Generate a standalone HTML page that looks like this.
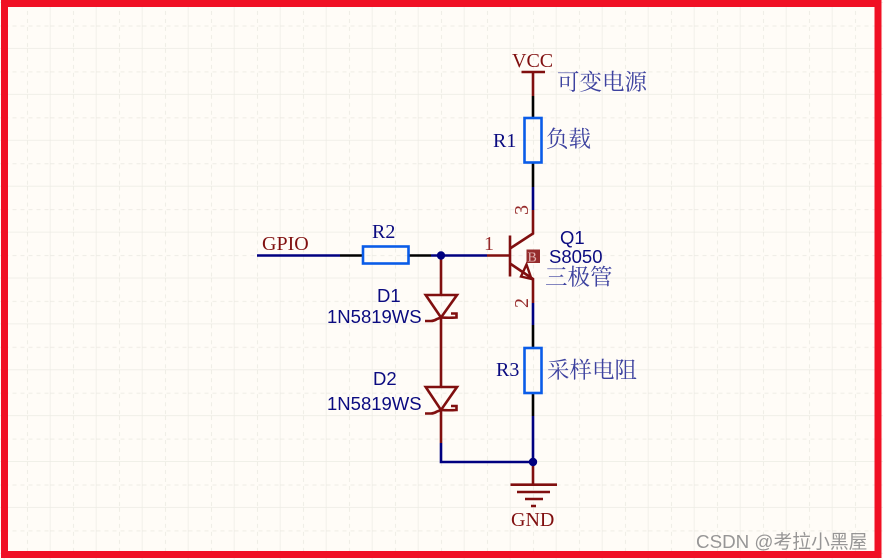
<!DOCTYPE html>
<html><head><meta charset="utf-8">
<style>
html,body{margin:0;padding:0;background:#fffcf7;width:883px;height:560px;overflow:hidden}
svg{display:block}
.s{font-family:"Liberation Serif",serif}
.a{font-family:"Liberation Sans",sans-serif;fill:#0b0b80}
.c{font-family:"Liberation Serif","Noto Serif CJK SC",serif;fill:#3d429f}
.b{fill:#0b0b80}.r{fill:#800f0f}
</style></head><body>
<svg width="883" height="560" viewBox="0 0 883 560" xmlns="http://www.w3.org/2000/svg">
<defs>
<pattern id="g" x="4.5" y="3" width="46" height="45.9" patternUnits="userSpaceOnUse">
<path d="M46 0V45.9M0 45.9H46" stroke="#ecebe4" stroke-width="1.4" fill="none"/>
<path d="M23 0V45.9M0 23H46" stroke="#f0eee7" stroke-width="1.1" stroke-dasharray="4 4" fill="none"/>
</pattern>
</defs>
<rect width="883" height="560" fill="#fffcf7"/>
<rect width="883" height="560" fill="url(#g)"/>

<g fill="none" stroke-width="2.6">
<!-- red wires -->
<g stroke="#800f0f">
<path d="M533 72V96"/>
<path d="M521.5 72H545" stroke-width="2.4"/>
<path d="M533 210V233.5L510 248.5"/>
<path d="M510 235.5V276.5"/>
<path d="M487 255.5H510"/>
<path d="M510 263.5L533 279V303"/>
<path d="M441 255.5V295"/>
<path d="M425.7 295H457L441 317.5Z"/>
<path d="M441 317.5V387"/>
<path d="M425 321H431Q434 321 437 319L441 317.5Q449 318 456.5 317.5V313.5H451"/>
<path d="M425.7 387H457L441 410Z"/>
<path d="M441 410V443"/>
<path d="M425 413.5H431Q434 413.5 437 411.5L441 410Q449 410.5 456.5 410V406H451"/>
<path d="M533 462V484"/>
<path d="M510.5 484.7H557M517 492H550M525 499H543M531 506H536"/>
<path d="M521 276.5L526.5 264.5L531.5 279L521 276.5Z" stroke-width="2.4"/>
</g>
<!-- black wires -->
<g stroke="#000">
<path d="M533 96V117M533 163V187M340 255.5H362M409 255.5H431M533 325V348M533 393V416"/>
</g>
<!-- blue wires -->
<g stroke="#000080">
<path d="M533 187V210M257 255.5H340M431 255.5H487M533 303V325M533 416V462M441 443V462H533"/>
</g>
<!-- resistors -->
<g stroke="#0a5ce8" stroke-width="2.6">
<rect x="524.5" y="118" width="17" height="44.5"/>
<rect x="363" y="246.5" width="45.5" height="17"/>
<rect x="524.5" y="348" width="17" height="45"/>
</g>
</g>

<circle cx="441" cy="255.5" r="4.2" fill="#000080"/>
<circle cx="533" cy="462" r="4.2" fill="#000080"/>

<!-- pin B/E overlap marker -->
<rect x="526.5" y="249.5" width="13.5" height="13.5" fill="#8a1515" opacity=".9"/>
<text x="527.5" y="261.5" class="s" font-size="14" fill="#e0b0b0">B</text>
<text x="527.5" y="261.5" class="s" font-size="14" fill="#e0b0b0" opacity=".5">E</text>

<text x="512" y="67" class="s r" font-size="20">VCC</text>
<text x="511" y="526" class="s r" font-size="20">GND</text>
<text x="262" y="250" class="s r" font-size="20">GPIO</text>
<text x="484" y="250" class="s" font-size="20" fill="#962a2a">1</text>
<text transform="translate(528,215) rotate(-90)" class="s" font-size="20" fill="#962a2a">3</text>
<text transform="translate(528,308) rotate(-90)" class="s" font-size="20" fill="#962a2a">2</text>

<text x="493" y="147" class="s b" font-size="20">R1</text>
<text x="372" y="238" class="s b" font-size="20">R2</text>
<text x="496" y="376" class="s b" font-size="20">R3</text>

<text x="560" y="244" class="a" font-size="18.5">Q1</text>
<text x="549" y="263" class="a" font-size="18.5">S8050</text>
<text x="377" y="302" class="a" font-size="18.5">D1</text>
<text x="327" y="323" class="a" font-size="18.5">1N5819WS</text>
<text x="373" y="385" class="a" font-size="18.5">D2</text>
<text x="327" y="410" class="a" font-size="18.5">1N5819WS</text>

<text x="557" y="90" class="c" font-size="22.5">可变电源</text>
<text x="546" y="147" class="c" font-size="22.5">负载</text>
<text x="545" y="285" class="c" font-size="22.5">三极管</text>
<text x="547" y="378" class="c" font-size="22.5">采样电阻</text>

<!-- border -->
<path d="M4.5 3.5H878V554.5H4.5Z" fill="none" stroke="#f01024" stroke-width="7"/>

<text x="696" y="548" font-family="'Liberation Sans','Noto Sans CJK SC',sans-serif" font-size="18.8" fill="#8c8c8c" opacity=".9">CSDN @考拉小黑屋</text>
</svg>
</body></html>
